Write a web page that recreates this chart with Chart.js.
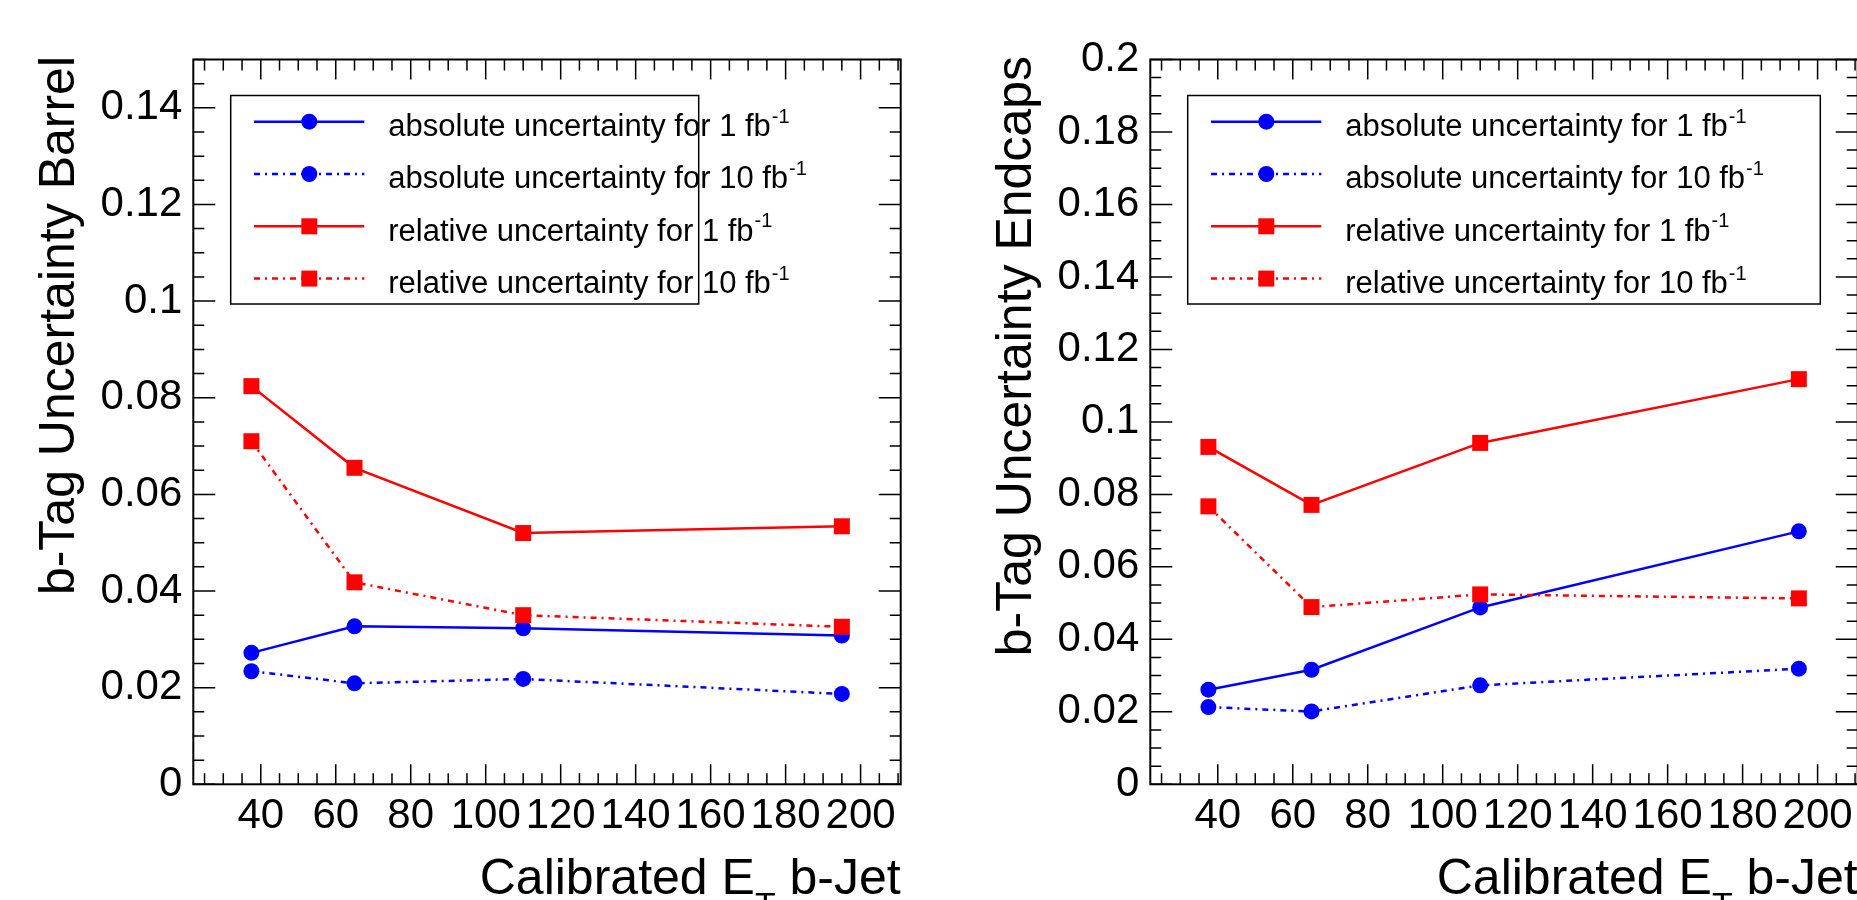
<!DOCTYPE html>
<html>
<head>
<meta charset="utf-8">
<script src="https://cdn.jsdelivr.net/npm/chart.js@4/dist/chart.umd.min.js"></script>
<style>
  html, body { margin: 0; padding: 0; overflow: hidden; background: #fff; }
  #wrap { position: relative; width: 1857px; height: 900px; overflow: hidden; }
  canvas { position: absolute; top: 0; }
  #barrel { left: 0; }
  #endcaps { left: 957px; }
</style>
</head>
<body>
<div id="wrap">
  <canvas id="barrel" width="957" height="900"></canvas>
  <canvas id="endcaps" width="957" height="900"></canvas>
</div>
<script>
// E_T bin centres (GeV)
const etBins = [37.5, 65, 110, 195];

// barrel
const barrelAbs1 = [0.0272, 0.0327, 0.0323, 0.0308];
const barrelAbs10 = [0.0234, 0.0209, 0.0218, 0.0187];
const barrelRel1 = [0.0824, 0.0655, 0.0520, 0.0534];
const barrelRel10 = [0.0710, 0.0418, 0.0350, 0.0326];

// endcaps
const endcapAbs1 = [0.0261, 0.0316, 0.0488, 0.0698];
const endcapAbs10 = [0.0213, 0.0201, 0.0273, 0.0319];
const endcapRel1 = [0.0931, 0.0771, 0.0942, 0.1118];
const endcapRel10 = [0.0767, 0.0489, 0.0524, 0.0513];

const legendLabels = [
  'absolute uncertainty for 1 fb',
  'absolute uncertainty for 10 fb',
  'relative uncertainty for 1 fb',
  'relative uncertainty for 10 fb'
];
const legendSup = '-1';
const xTitle = ['Calibrated E', 'T', ' b-Jet'];

const FONT = "'Liberation Sans', Arial, Helvetica, sans-serif";
const W = 957, H = 900;
const FRAME = { left: 193.3, top: 59.5, right: 900.7, bottom: 784.3 };
const X_MIN = 22, X_MAX = 210.7;
const DASHDOT = [6, 5, 2, 5];

Chart.defaults.color = '#000';
Chart.defaults.font.family = FONT;

function series(values, i) {
  const blue = i < 2;
  const color = blue ? '#0000ff' : '#ff0000';
  return {
    label: legendLabels[i],
    data: etBins.map((x, k) => ({ x: x, y: values[k] })),
    borderColor: color,
    backgroundColor: color,
    borderWidth: 2.5,
    borderDash: i % 2 ? DASHDOT : [],
    pointStyle: blue ? 'circle' : 'rect',
    pointRadius: blue ? 8 : 11.3,
    pointBorderWidth: 0,
    pointBackgroundColor: color,
    tension: 0,
    order: 4 - i,
    clip: false
  };
}

function drawMarker(ctx, ds, px, py) {
  ctx.fillStyle = ds.pointBackgroundColor;
  ctx.beginPath();
  if (ds.pointStyle === 'rect') {
    const s = Math.SQRT1_2 * ds.pointRadius;
    ctx.rect(px - s, py - s, 2 * s, 2 * s);
  } else {
    ctx.arc(px, py, ds.pointRadius, 0, Math.PI * 2);
  }
  ctx.fill();
}

// ROOT-like frame, inward ticks, legend and axis titles
const rootStyle = {
  id: 'rootStyle',
  afterDraw(chart, args, opts) {
    const { ctx, chartArea: a } = chart;
    const x = chart.scales.x, y = chart.scales.y;
    ctx.save();

    ctx.strokeStyle = '#000';
    ctx.lineWidth = 1.5;
    ctx.beginPath();
    for (let v = 25; v <= X_MAX; v += 5) {
      const px = x.getPixelForValue(v);
      const len = v % 20 === 0 ? 20 : 11;
      ctx.moveTo(px, a.bottom); ctx.lineTo(px, a.bottom - len);
      ctx.moveTo(px, a.top); ctx.lineTo(px, a.top + len);
    }
    for (let i = 0; i * 0.005 <= y.max + 1e-9; i++) {
      const py = y.getPixelForValue(i * 0.005);
      const len = i % 4 === 0 ? 22 : 11;
      ctx.moveTo(a.left, py); ctx.lineTo(a.left + len, py);
      ctx.moveTo(a.right, py); ctx.lineTo(a.right - len, py);
    }
    ctx.stroke();

    ctx.lineWidth = 2;
    ctx.strokeRect(a.left, a.top, a.right - a.left, a.bottom - a.top);

    // legend
    const L = opts.legend;
    ctx.fillStyle = '#fff';
    ctx.fillRect(L.left, L.top, L.right - L.left, L.bottom - L.top);
    ctx.lineWidth = 1.5;
    ctx.strokeStyle = '#000';
    ctx.strokeRect(L.left, L.top, L.right - L.left, L.bottom - L.top);

    ctx.textAlign = 'left';
    ctx.textBaseline = 'alphabetic';
    chart.data.datasets.forEach((ds, i) => {
      const ry = L.top + 26.2 + i * 52.3;
      ctx.strokeStyle = ds.borderColor;
      ctx.lineWidth = ds.borderWidth;
      ctx.setLineDash(ds.borderDash);
      ctx.beginPath();
      ctx.moveTo(L.left + 23.3, ry);
      ctx.lineTo(L.left + 133.6, ry);
      ctx.stroke();
      ctx.setLineDash([]);
      drawMarker(ctx, ds, L.left + 78.6, ry);

      ctx.fillStyle = '#000';
      ctx.font = '31px ' + FONT;
      const tx = L.left + 157.6;
      ctx.fillText(ds.label, tx, ry + 14.3);
      const w = ctx.measureText(ds.label).width;
      ctx.font = '20px ' + FONT;
      ctx.fillText(legendSup, tx + w + 1, ry + 1);
    });

    // y title
    ctx.fillStyle = '#000';
    ctx.save();
    ctx.translate(opts.yTitleX, 56);
    ctx.rotate(-Math.PI / 2);
    ctx.font = '50px ' + FONT;
    ctx.textAlign = 'right';
    ctx.textBaseline = 'alphabetic';
    ctx.fillText(opts.yTitle, 0, 0);
    ctx.restore();

    // x title with subscript, right aligned to the frame
    const sizes = [50, 34, 50], drops = [0, 22, 0];
    let total = 0;
    const widths = xTitle.map((t, k) => {
      ctx.font = sizes[k] + 'px ' + FONT;
      const m = ctx.measureText(t).width;
      total += m;
      return m;
    });
    let cx = a.right - total;
    ctx.textAlign = 'left';
    ctx.textBaseline = 'alphabetic';
    xTitle.forEach((t, k) => {
      ctx.font = sizes[k] + 'px ' + FONT;
      ctx.fillText(t, cx, opts.xTitleY + drops[k]);
      cx += widths[k];
    });

    ctx.restore();
  }
};

function makeChart(id, sets, yMax, yTitle, legend) {
  return new Chart(document.getElementById(id), {
    type: 'line',
    data: { datasets: sets.map(series) },
    options: {
      responsive: false,
      animation: false,
      devicePixelRatio: 1,
      events: [],
      layout: { padding: { left: 0, top: FRAME.top, right: W - FRAME.right, bottom: 0 } },
      plugins: {
        legend: { display: false },
        tooltip: { enabled: false },
        rootStyle: { legend: legend, yTitle: yTitle, yTitleX: 74, xTitleY: 894 }
      },
      scales: {
        x: {
          type: 'linear',
          min: X_MIN,
          max: X_MAX,
          grid: { display: false, drawTicks: false },
          border: { display: false },
          ticks: {
            stepSize: 20,
            includeBounds: false,
            autoSkip: false,
            maxRotation: 0,
            padding: 11,
            font: { size: 42, lineHeight: 1 },
            callback: v => String(v)
          },
          afterFit: s => { s.height = H - FRAME.bottom; }
        },
        y: {
          type: 'linear',
          min: 0,
          max: yMax,
          grid: { display: false, drawTicks: false },
          border: { display: false },
          ticks: {
            stepSize: 0.02,
            includeBounds: false,
            autoSkip: false,
            maxTicksLimit: 20,
            padding: 11,
            font: { size: 42, lineHeight: 1 },
            callback: v => String(+v.toFixed(2))
          },
          afterFit: s => { s.width = FRAME.left; }
        }
      }
    },
    plugins: [rootStyle]
  });
}

makeChart('barrel', [barrelAbs1, barrelAbs10, barrelRel1, barrelRel10], 0.15,
  'b-Tag Uncertainty Barrel', { left: 230.7, right: 698.7, top: 95.5, bottom: 304 });
makeChart('endcaps', [endcapAbs1, endcapAbs10, endcapRel1, endcapRel10], 0.2,
  'b-Tag Uncertainty Endcaps', { left: 230.7, right: 863.3, top: 95.5, bottom: 304 });
</script>
</body>
</html>
